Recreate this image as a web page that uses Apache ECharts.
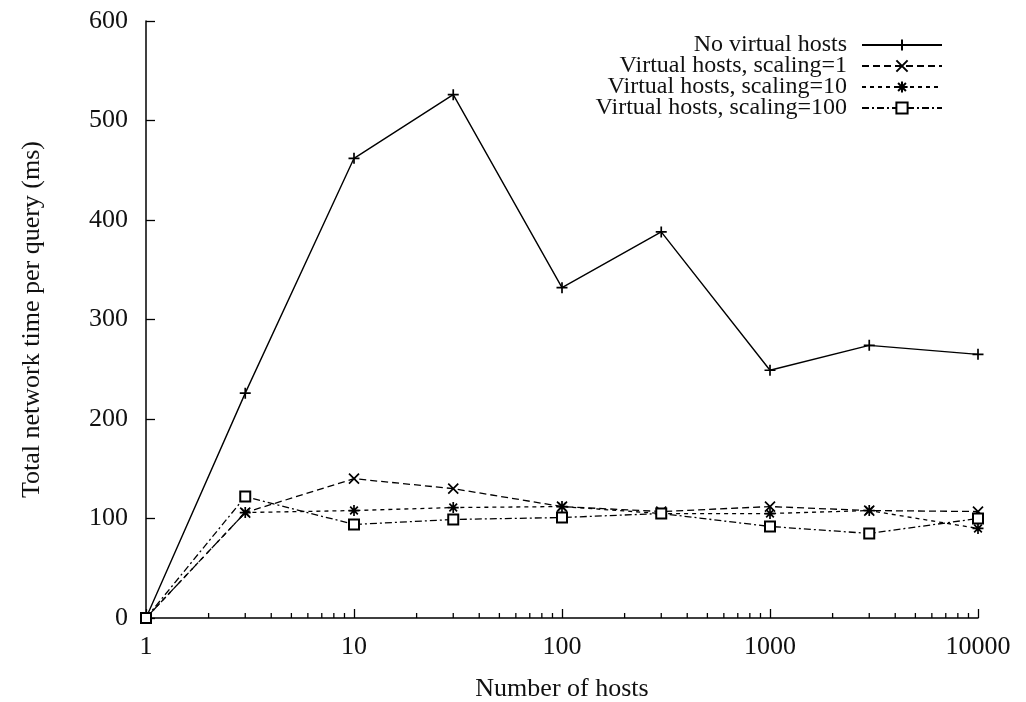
<!DOCTYPE html>
<html><head><meta charset="utf-8">
<script src="https://cdn.jsdelivr.net/npm/echarts@6/dist/echarts.min.js"></script>
<style>html,body{margin:0;padding:0;background:#fff}#c{width:1026px;height:702px}</style>
</head><body><div id="c"></div>
<script>
var hosts = [1, 3, 10, 30, 100, 300, 1000, 3000, 10000];
var noVirtual = [0, 226, 462, 526, 332, 388, 249, 274, 265];
var scaling1 = [0, 106, 140, 130, 112, 107, 112, 108, 107];
var scaling10 = [0, 106, 108, 111, 112, 105, 105, 108, 90];
var scaling100 = [0, 122, 94, 99, 101, 105, 92, 85, 100];
var minorTicks = [2,3,4,5,6,7,8,9,20,30,40,50,60,70,80,90,200,300,400,500,600,700,800,900,2000,3000,4000,5000,6000,7000,8000,9000];
var names = ['No virtual hosts', 'Virtual hosts, scaling=1', 'Virtual hosts, scaling=10', 'Virtual hosts, scaling=100'];

var FONT = 'Liberation Serif';
var TXT = '#111';
function pairs(vals){ return hosts.map(function(h,i){ return [h, vals[i]]; }); }
var plusPath = 'path://M0,5L10,5M5,0L5,10';
var crossPath = 'path://M0,0L10,10M0,10L10,0';
var starPath = 'path://M0,5L10,5M5,0L5,10M1.5,1.5L8.5,8.5M1.5,8.5L8.5,1.5';

function lineSeries(name, vals, symbol, size, dash, lw){
  return {
    name: name, type: 'line', data: pairs(vals),
    symbol: symbol, symbolSize: size,
    lineStyle: {color: '#000', width: lw, type: dash},
    itemStyle: {color: '#000', borderColor: '#000', borderWidth: 1.7},
    emphasis: {disabled: true}, animation: false, z: 3
  };
}

var chart = echarts.init(document.getElementById('c'));
chart.setOption({
  animation: false,
  backgroundColor: '#fff',
  grid: {left: 146, right: 48, top: 21, bottom: 84, containLabel: false, outerBoundsMode: 'none'},
  legend: {
    data: names, orient: 'vertical', right: 83, top: 33, align: 'right', padding: 0,
    itemWidth: 80, itemHeight: 14, itemGap: -3,
    textStyle: {fontFamily: FONT, fontSize: 24, color: TXT, padding: [0, 10, 0, 0]},
    selectedMode: false
  },
  xAxis: {
    type: 'log', min: 1, max: 10000, logBase: 10,
    name: 'Number of hosts', nameLocation: 'middle', nameGap: 58,
    nameTextStyle: {fontFamily: FONT, fontSize: 26, color: TXT},
    axisLine: {lineStyle: {color: '#000', width: 1.5}},
    axisTick: {inside: true, length: 9, lineStyle: {color: '#000', width: 1.3}},
    axisLabel: {fontFamily: FONT, fontSize: 26, color: TXT, margin: 16,
      formatter: function(v){ return String(Math.round(v)); }},
    splitLine: {show: false}, minorTick: {show: false}, minorSplitLine: {show: false}
  },
  yAxis: {
    type: 'value', min: 0, max: 600, interval: 100,
    name: 'Total network time per query (ms)', nameLocation: 'middle', nameGap: 101,
    nameTextStyle: {fontFamily: FONT, fontSize: 26, color: TXT},
    axisLine: {show: true, lineStyle: {color: '#000', width: 1.5}},
    axisTick: {show: true, inside: true, length: 9, lineStyle: {color: '#000', width: 1.3}},
    axisLabel: {fontFamily: FONT, fontSize: 26, color: TXT, margin: 18},
    splitLine: {show: false}
  },
  series: [
    lineSeries(names[0], noVirtual, plusPath, 11, 'solid', 1.4),
    lineSeries(names[1], scaling1, crossPath, 10, [7, 4], 1.3),
    lineSeries(names[2], scaling10, starPath, 11, [4, 4], 1.3),
    lineSeries(names[3], scaling100, 'emptyRect', 10, [7, 3, 2, 3], 1.3),
    {
      type: 'custom', name: 'minor', silent: true, z: 2,
      data: minorTicks.map(function(v){ return [v, 0]; }),
      renderItem: function(params, api){
        var p = api.coord([api.value(0), 0]);
        return {type: 'line', shape: {x1: p[0], y1: p[1], x2: p[0], y2: p[1] - 5},
                style: {stroke: '#000', lineWidth: 1.3}};
      }
    }
  ]
});
</script>
</body></html>
